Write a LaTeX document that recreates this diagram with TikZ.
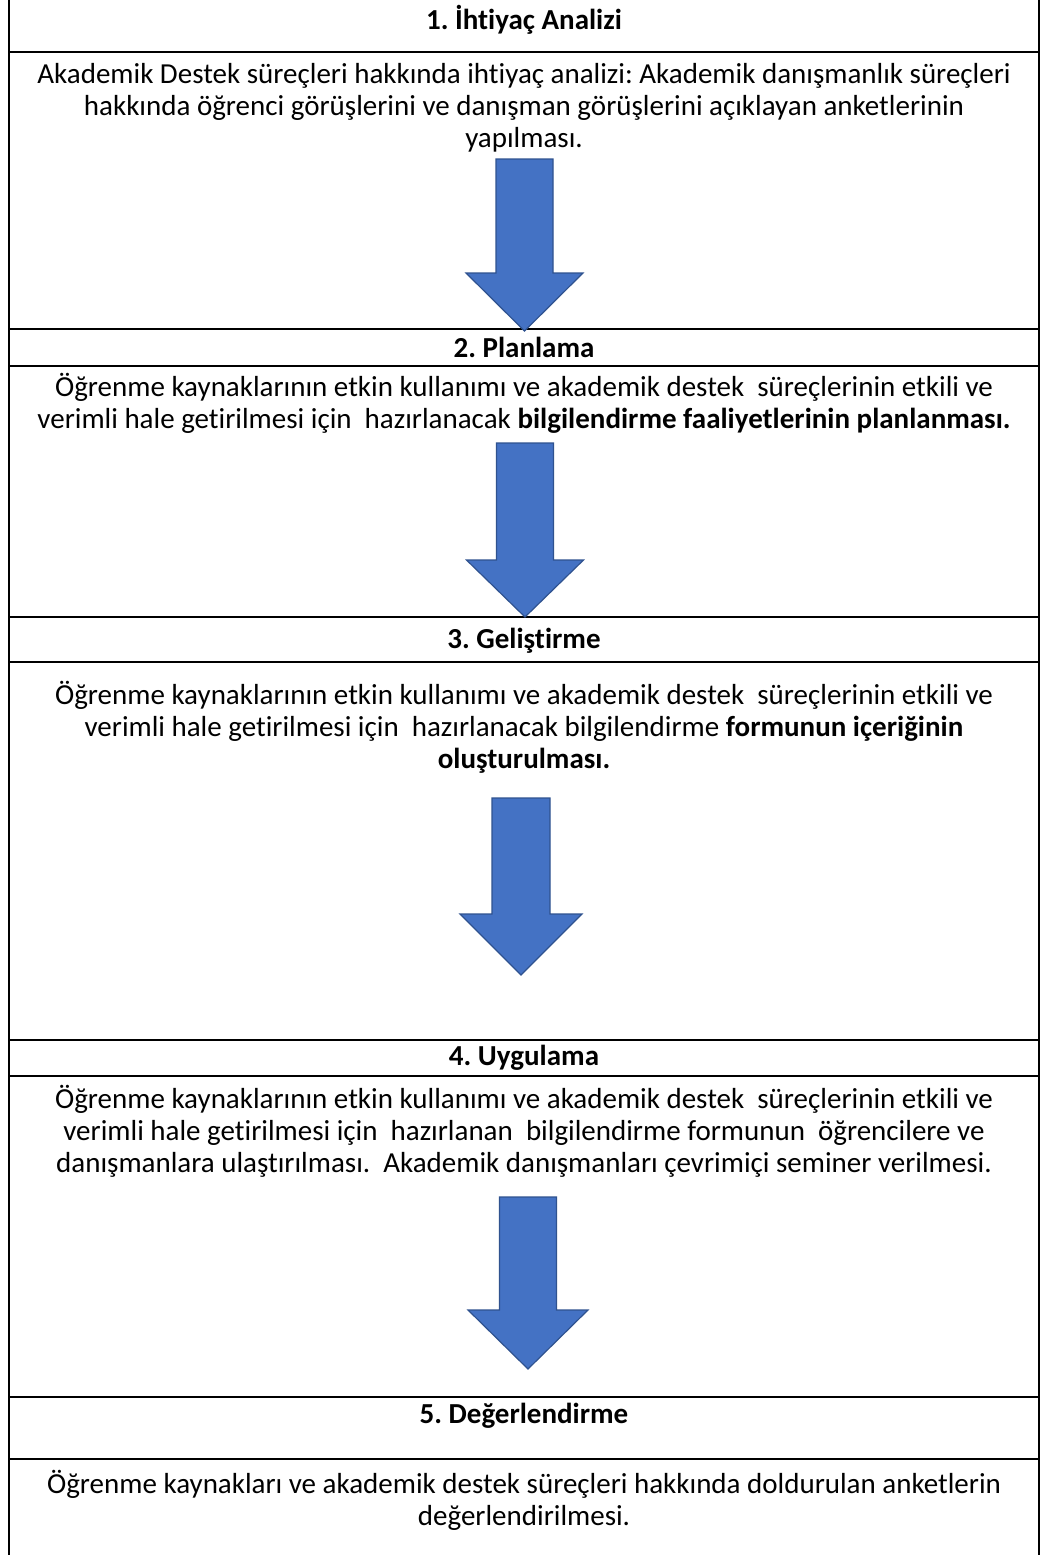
\documentclass[tikz,border=0pt]{standalone}
\usepackage{fontspec}
\setmainfont{Carlito}[Ligatures=NoCommon]
\definecolor{arrfill}{HTML}{4472C4}
\definecolor{arrline}{HTML}{2F528F}
\tikzset{
  x=1pt,y=-1pt,
  rule/.style={line width=2pt,black},
  hdr/.style={font=\fontsize{29}{32}\selectfont\frenchspacing\bfseries,inner sep=0pt,align=center},
  bodytxt/.style={font=\fontsize{29}{32}\selectfont\frenchspacing,inner sep=0pt,align=center},
  blockarrow/.style={fill=arrfill,draw=arrline,line width=1.2pt,line join=miter}
}
\newcommand{\blockarr}[6]{%
  % center x, top, shoulder y, tip y, half shaft, half head
  \draw[blockarrow] (#1-#5,#2) -- (#1+#5,#2) -- (#1+#5,#3) -- (#1+#6,#3) -- (#1,#4) -- (#1-#6,#3) -- (#1-#5,#3) -- cycle;}
\begin{document}
\begin{tikzpicture}
\useasboundingbox (0,0) rectangle (1042,1555);
\fill[white] (0,0) rectangle (1042,1555);
% vertical borders
\coordinate (tl) at (9,0); \coordinate (bl) at (9,1555);
\coordinate (tr) at (1039,0); \coordinate (br) at (1039,1555);
\draw[rule] (tl) -- (bl);
\draw[rule] (tr) -- (br);
% horizontal rules
\foreach \yy in {52,329,366,617,662,1040,1076,1397,1459}
  \draw[rule] (8,\yy) -- (1040,\yy);
% arrows
\blockarr{524.5}{159}{273}{331}{28.5}{58.5}
\blockarr{525}{443}{560}{617}{28.5}{58.5}
\blockarr{521}{798}{914}{975}{29}{61}
\blockarr{528}{1197}{1310}{1369}{28.5}{60}
% texts
\node[hdr] (h1) at (524,20) {1. İhtiyaç Analizi};
\node[bodytxt] (b1) at (524,108) {Akademik Destek süreçleri hakkında ihtiyaç analizi: Akademik danışmanlık süreçleri\\hakkında öğrenci görüşlerini ve danışman görüşlerini açıklayan anketlerinin\\yapılması.};
\node[hdr] (h2) at (524,347) {2. Planlama};
\node[bodytxt] (b2) at (524,403) {Öğrenme kaynaklarının etkin kullanımı ve akademik destek\ \ süreçlerinin etkili ve\\verimli hale getirilmesi için\ \ hazırlanacak \textbf{bilgilendirme faaliyetlerinin planlanması.}};
\node[hdr] (h3) at (524,641) {3. Geliştirme};
\node[bodytxt] (b3) at (524,727) {Öğrenme kaynaklarının etkin kullanımı ve akademik destek\ \ süreçlerinin etkili ve\\verimli hale getirilmesi için\ \ hazırlanacak bilgilendirme \textbf{formunun içeriğinin}\\\textbf{oluşturulması.}};
\node[hdr] (h4) at (524,1058) {4. Uygulama};
\node[bodytxt] (b4) at (524,1131) {Öğrenme kaynaklarının etkin kullanımı ve akademik destek\ \ süreçlerinin etkili ve\\verimli hale getirilmesi için\ \ hazırlanan\ \ bilgilendirme formunun\ \ öğrencilere ve\\danışmanlara ulaştırılması.\ \ Akademik danışmanları çevrimiçi seminer verilmesi.};
\node[hdr] (h5) at (524,1416) {5. Değerlendirme};
\node[bodytxt] (b5) at (524,1500) {Öğrenme kaynakları ve akademik destek süreçleri hakkında doldurulan anketlerin\\değerlendirilmesi.};
\end{tikzpicture}
\end{document}
